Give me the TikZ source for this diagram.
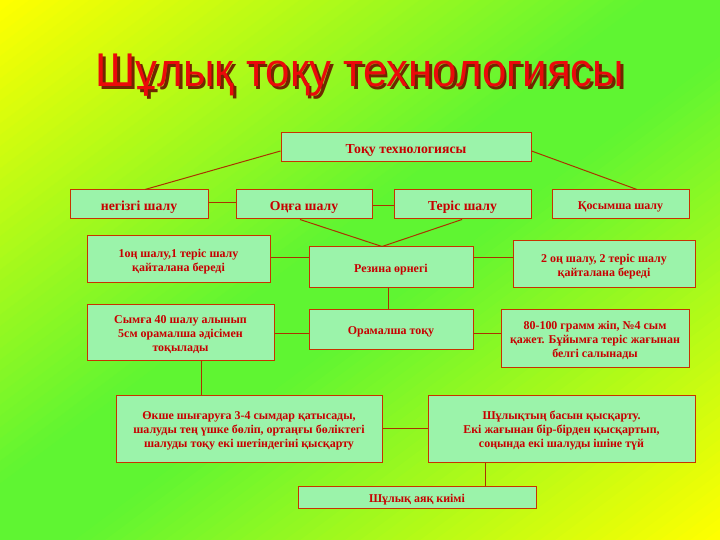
\documentclass[tikz,border=0pt]{standalone}
\usepackage{fontspec}
\setmainfont{Liberation Serif}
\newfontfamily\titlefont{Liberation Sans}
\definecolor{bgyellow}{RGB}{255,255,0}
\definecolor{bggreen}{RGB}{95,245,50}
\definecolor{boxfill}{RGB}{155,243,170}
\definecolor{boxline}{RGB}{200,50,0}
\definecolor{textred}{RGB}{200,0,0}
\definecolor{linecol}{RGB}{170,50,0}
\definecolor{titlered}{RGB}{235,10,10}
\definecolor{titleshadow}{RGB}{110,40,0}
\newcommand{\titlestr}{Шұлық тоқу технологиясы}
\newcommand{\bt}[1]{\raisebox{-2.5bp}[\height][\depth]{\begin{tabular}{@{}c@{}}#1\end{tabular}}}
\begin{document}
\begin{tikzpicture}[x=1bp,y=-1bp,
  box/.style={draw=boxline, line width=1bp, fill=boxfill, text=textred,
    font=\bfseries\fontsize{12}{14}\selectfont, inner sep=0pt},
  bigbox/.style={box, font=\bfseries\fontsize{13.8}{16}\selectfont},
  link/.style={draw=linecol, line width=1bp},
  titletext/.style={font=\titlefont\fontsize{44}{50}\selectfont, anchor=base, yscale=1.08}]
% background: diagonal yellow-green-yellow gradient
\begin{scope}
\clip (0,0) rectangle (720,540);
\foreach \i in {0,...,95} {
  \pgfmathsetmacro{\f}{100*min(1,min(\i/95,1-\i/95)/0.45)}
  \fill[bggreen!\f!bgyellow, rotate=-53.13] (\i*9,-620) rectangle (\i*9+9.8,370);
}
\end{scope}
\useasboundingbox (0,0) rectangle (720,540);
% title with shadow
\node[titletext, text=titlered] (title) at (360,87)
  {\makebox[0pt][l]{\kern2.5bp\raisebox{-2.5bp}{\color{titleshadow}\titlestr}}\titlestr};
% boxes
\node[bigbox, minimum width=250bp, minimum height=29bp] (top) at (406,147.5) {\bt{Тоқу технологиясы}};
\node[bigbox, minimum width=138bp, minimum height=29bp] (neg) at (139,204.5) {\bt{негізгі шалу}};
\node[bigbox, minimum width=136bp, minimum height=29bp] (onga) at (304,204.5) {\bt{Оңға шалу}};
\node[bigbox, minimum width=137bp, minimum height=29bp] (teris) at (462.5,204.5) {\bt{Теріс шалу}};
\node[box, minimum width=137bp, minimum height=29bp] (kos) at (620.5,204.5) {\bt{Қосымша шалу}};
\node[box, minimum width=183bp, minimum height=46bp] (one) at (178.5,259) {\bt{1оң шалу,1 теріс шалу\\қайталана береді}};
\node[box, minimum width=164bp, minimum height=40bp] (rez) at (391,267) {\bt{Резина өрнегі}};
\node[box, minimum width=182bp, minimum height=46bp] (two) at (604,264) {\bt{2 оң шалу, 2 теріс шалу\\қайталана береді}};
\node[box, minimum width=187bp, minimum height=56bp] (sym) at (180.5,332) {\bt{Сымға 40 шалу алынып\\5см орамалша әдісімен\\тоқылады}};
\node[box, minimum width=164bp, minimum height=40bp] (oram) at (391,329) {\bt{Орамалша тоқу}};
\node[box, minimum width=188bp, minimum height=58bp] (gram) at (595,338) {\bt{80-100 грамм жіп, №4 сым\\қажет. Бұйымға теріс жағынан\\белгі салынады}};
\node[box, minimum width=266bp, minimum height=67bp] (okshe) at (249,428.5) {\bt{Өкше шығаруға 3-4 сымдар қатысады,\\шалуды тең үшке бөліп, ортаңғы бөліктегі\\шалуды тоқу екі шетіндегіні қысқарту}};
\node[box, minimum width=267bp, minimum height=67bp] (bas) at (561.5,428.5) {\bt{Шұлықтың басын қысқарту.\\Екі жағынан бір-бірден қысқартып,\\соңында екі шалуды ішіне түй}};
\node[box, minimum width=238bp, minimum height=22bp] (ayak) at (417,497) {\bt{Шұлық аяқ киімі}};
% connectors
\draw[link] (top.west |- 0,151) -- (neg.north -| 145,0);
\draw[link] (top.east |- 0,151) -- (kos.north -| 637,0);
\draw[link] (neg.east |- 0,203) -- (onga.west |- 0,203);
\draw[link] (onga.east |- 0,206) -- (teris.west |- 0,206);
\draw[link] (onga.south -| 300,0) -- (rez.north -| 382,0);
\draw[link] (teris.south -| 462,0) -- (rez.north -| 382,0);
\draw[link] (one.east |- 0,258) -- (rez.west |- 0,258);
\draw[link] (rez.east |- 0,258) -- (two.west |- 0,258);
\draw[link] (rez.south -| 388,0) -- (oram.north -| 388,0);
\draw[link] (sym.east |- 0,333) -- (oram.west |- 0,333);
\draw[link] (oram.east |- 0,333) -- (gram.west |- 0,333);
\draw[link] (sym.south -| 201,0) -- (okshe.north -| 201,0);
\draw[link] (okshe.east |- 0,428) -- (bas.west |- 0,428);
\draw[link] (bas.south -| 485,0) -- (ayak.north -| 485,0);
\end{tikzpicture}
\end{document}
